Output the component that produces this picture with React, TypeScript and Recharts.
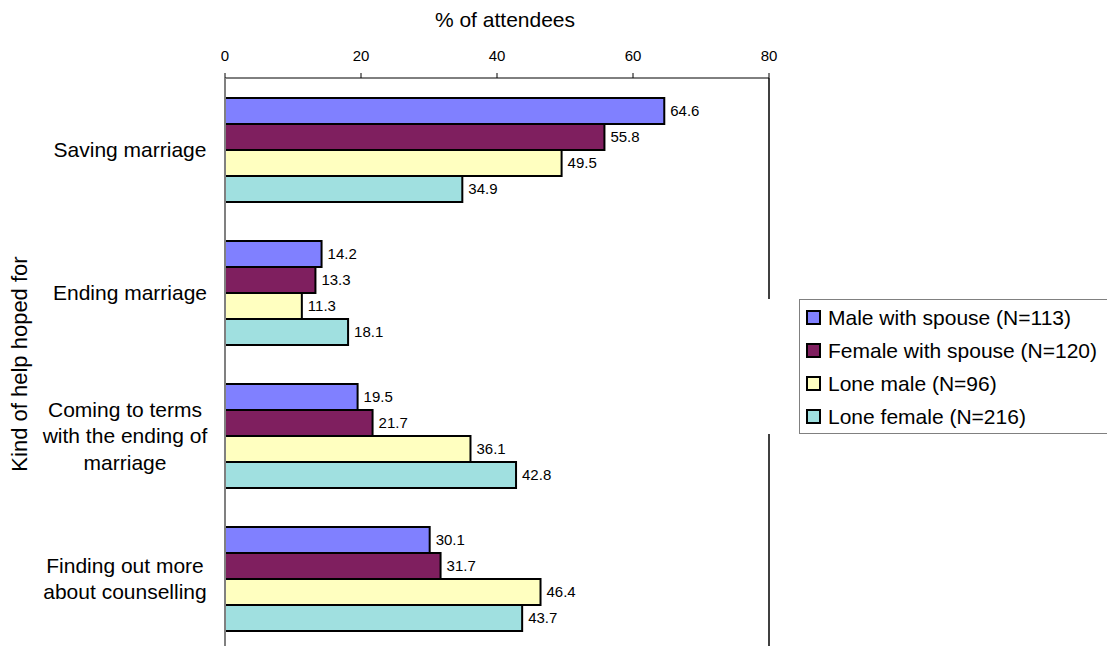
import { BarChart, Bar, XAxis, YAxis, LabelList, ReferenceLine } from "recharts";

const categories = [
  "Saving marriage",
  "Ending marriage",
  "Coming to terms\nwith the ending of\nmarriage",
  "Finding out more\nabout counselling",
];
const maleSpouse = [64.6, 14.2, 19.5, 30.1];
const femaleSpouse = [55.8, 13.3, 21.7, 31.7];
const loneMale = [49.5, 11.3, 36.1, 46.4];
const loneFemale = [34.9, 18.1, 42.8, 43.7];
const xTicks = [0, 20, 40, 60, 80];

const series = [
  { key: "maleSpouse", name: "Male with spouse (N=113)", fill: "#8080ff" },
  { key: "femaleSpouse", name: "Female with spouse (N=120)", fill: "#7f1f5f" },
  { key: "loneMale", name: "Lone male (N=96)", fill: "#ffffc0" },
  { key: "loneFemale", name: "Lone female (N=216)", fill: "#a0e0e0" },
];

const data = categories.map((name, i) => ({
  name,
  maleSpouse: maleSpouse[i],
  femaleSpouse: femaleSpouse[i],
  loneMale: loneMale[i],
  loneFemale: loneFemale[i],
}));

const font = "'Liberation Sans', Arial, sans-serif";

function CategoryTick(props: any) {
  const { y, payload } = props;
  const lines = String(payload.value).split("\n");
  const lh = 26.5;
  const start = y - ((lines.length - 1) * lh) / 2;
  const cx = lines.length > 1 ? 125 : 130;
  return (
    <text textAnchor="middle" fontSize={21} fill="#000" fontFamily={font}>
      {lines.map((l, i) => (
        <tspan key={i} x={cx} y={start + i * lh} dy="0.36em">
          {l}
        </tspan>
      ))}
    </text>
  );
}

// legend drawn as html over the chart; its white backing hides part of the right border
function LegendBox() {
  return (
    <div style={{ position: "absolute", left: 765, top: 299, width: 350, background: "#fff", paddingLeft: 34, boxSizing: "border-box" }}>
      <div
        style={{
          border: "1px solid #808080",
          borderRight: "none",
          height: 132,
          paddingTop: 1,
          fontFamily: font,
          fontSize: 21,
          color: "#000",
        }}
      >
        {series.map((s) => (
          <div key={s.key} style={{ display: "flex", alignItems: "center", height: 33 }}>
            <span
              style={{
                display: "inline-block",
                width: 11,
                height: 11,
                background: s.fill,
                border: "2px solid #000",
                marginLeft: 6,
                marginRight: 7,
              }}
            />
            <span style={{ whiteSpace: "nowrap" }}>{s.name}</span>
          </div>
        ))}
      </div>
    </div>
  );
}

export default function App() {
  return (
    <div style={{ position: "absolute", left: 0, top: 0, width: 1107, height: 646, overflow: "hidden", background: "#fff" }}>
      <BarChart
        width={1107}
        height={650}
        data={data}
        layout="vertical"
        margin={{ top: 48, right: 338, bottom: 0, left: 0 }}
        barGap={0}
      >
        <XAxis
          type="number"
          orientation="top"
          domain={[0, 80]}
          ticks={xTicks}
          height={30}
          axisLine={{ stroke: "#000" }}
          tickLine={{ stroke: "#000" }}
          tickSize={5}
          tickMargin={12}
          tick={{ fontSize: 15, fill: "#000", fontFamily: font }}
          label={{ value: "% of attendees", position: "top", offset: 21, dx: 8, fontSize: 21, fill: "#000", fontFamily: font }}
        />
        <YAxis
          type="category"
          dataKey="name"
          width={225}
          axisLine={{ stroke: "#808080", strokeWidth: 2 }}
          tickLine={false}
          tick={<CategoryTick />}
          label={{
            value: "Kind of help hoped for",
            angle: -90,
            position: "insideLeft",
            offset: 19,
            fontSize: 22,
            fill: "#000",
            fontFamily: font,
            style: { textAnchor: "middle" },
          }}
        />
        <ReferenceLine x={80} stroke="#000" strokeWidth={1.5} />
        {series.map((s) => (
          <Bar
            key={s.key}
            dataKey={s.key}
            name={s.name}
            fill={s.fill}
            stroke="#000"
            strokeWidth={2}
            barSize={26}
            isAnimationActive={false}
          >
            <LabelList dataKey={s.key} position="right" offset={6} fontSize={15} fill="#000" fontFamily={font} />
          </Bar>
        ))}
      </BarChart>
      <LegendBox />
    </div>
  );
}
